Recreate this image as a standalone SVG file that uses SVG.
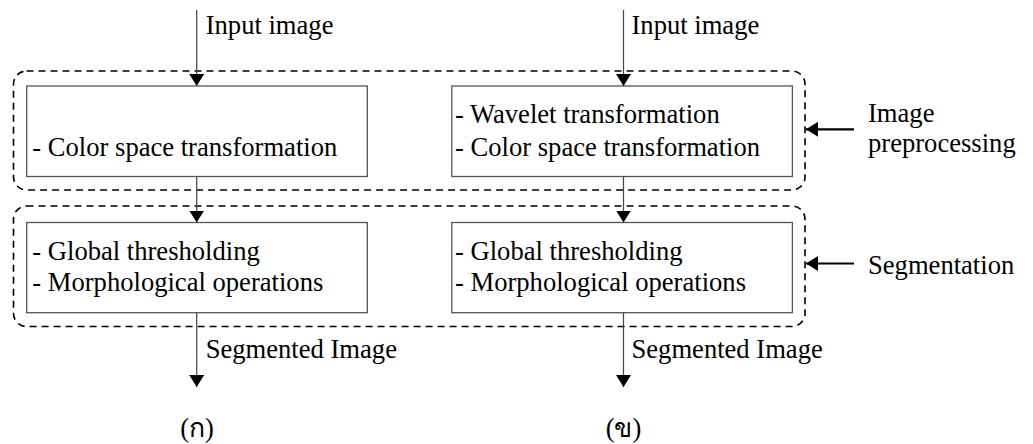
<svg xmlns="http://www.w3.org/2000/svg" width="1033" height="444" viewBox="0 0 1033 444">
<defs>
<style>
.t{font-family:'Liberation Serif','Times New Roman',serif;font-size:26.6px;fill:#000}
.box{fill:#fff;stroke:#555;stroke-width:1.3}
.grp{fill:none;stroke:#000;stroke-width:1.6;stroke-dasharray:7,5}
.ln{stroke:#444;stroke-width:1.2;fill:none}
.side{stroke:#000;stroke-width:2.2;fill:none}
</style>
<marker id="ah" viewBox="0 0 12 15" refX="12" refY="7.5" markerWidth="12" markerHeight="15" markerUnits="userSpaceOnUse" orient="auto"><path d="M0,0 L12,7.5 L0,15 z" fill="#000"/></marker>
</defs>
<rect width="1033" height="444" fill="#fff"/>
<g id="groups">
<rect id="grp-preprocessing" class="grp" x="13.5" y="71" width="791.5" height="119" rx="13" ry="13"/>
<rect id="grp-segmentation" class="grp" x="13.5" y="206" width="791.5" height="120.5" rx="13" ry="13"/>
</g>
<g id="connectors">
<line class="ln" x1="196.7" y1="10" x2="196.7" y2="86" marker-end="url(#ah)"/>
<line class="ln" x1="196.7" y1="176.5" x2="196.7" y2="222.5" marker-end="url(#ah)"/>
<line class="ln" x1="196.7" y1="312.7" x2="196.7" y2="387" marker-end="url(#ah)"/>
<line class="ln" x1="623.5" y1="10" x2="623.5" y2="86" marker-end="url(#ah)"/>
<line class="ln" x1="623.5" y1="176.5" x2="623.5" y2="222.5" marker-end="url(#ah)"/>
<line class="ln" x1="623.5" y1="312.7" x2="623.5" y2="387" marker-end="url(#ah)"/>
<line class="side" x1="854" y1="129.3" x2="806" y2="129.3" marker-end="url(#ah)"/>
<line class="side" x1="854" y1="263.5" x2="806" y2="263.5" marker-end="url(#ah)"/>
</g>
<g id="node-a-pre">
<rect class="box" x="26.7" y="86" width="340.6" height="90.5"/>
<text class="t" x="32.3" y="155.5">- Color space transformation</text>
</g>
<g id="node-b-pre">
<rect class="box" x="451.8" y="86" width="340.6" height="90.5"/>
<text class="t" x="455" y="123">- Wavelet transformation</text>
<text class="t" x="455" y="156">- Color space transformation</text>
</g>
<g id="node-a-seg">
<rect class="box" x="26.7" y="222.5" width="340.6" height="90.2"/>
<text class="t" x="32.3" y="260">- Global thresholding</text>
<text class="t" x="32.3" y="290.7">- Morphological operations</text>
</g>
<g id="node-b-seg">
<rect class="box" x="451.8" y="222.5" width="340.6" height="90.2"/>
<text class="t" x="455" y="260">- Global thresholding</text>
<text class="t" x="455" y="290.7">- Morphological operations</text>
</g>
<g id="labels">
<text class="t" x="205.7" y="34">Input image</text>
<text class="t" x="631.5" y="34">Input image</text>
<text class="t" x="205.7" y="358">Segmented Image</text>
<text class="t" x="631.5" y="358">Segmented Image</text>
<text class="t" x="868" y="122">Image</text>
<text class="t" x="868" y="152.3">preprocessing</text>
<text class="t" x="868" y="274.3">Segmentation</text>
<text class="t" x="197" y="437" text-anchor="middle">(ก)</text>
<text class="t" x="623.5" y="437" text-anchor="middle">(ข)</text>
</g>
</svg>
